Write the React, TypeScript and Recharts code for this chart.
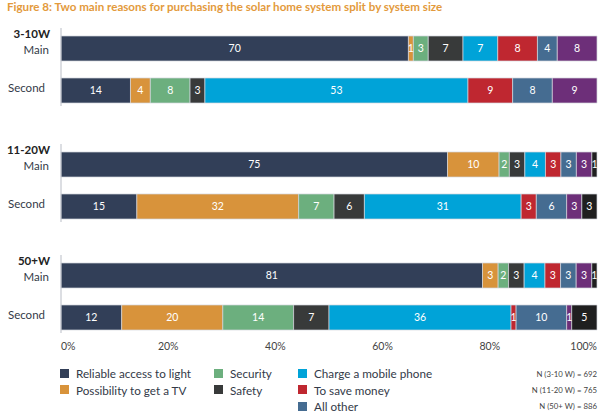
import React from 'react';
import { BarChart, Bar, XAxis, YAxis, LabelList } from 'recharts';

const groupLabels = ['3-10W', '11-20W', '50+W'];
const rowLabels = ['Main', 'Second'];
const sampleNotes = ['N (3-10 W) = 692', 'N (11-20 W) = 765', 'N (50+ W) = 886'];
const percentTicks = [0, 0.2, 0.4, 0.6, 0.8, 1];

// one value per row: 3-10W main, 3-10W second, 11-20W main, 11-20W second, 50+W main, 50+W second
const lightValues = [70, 14, 75, 15, 81, 12];
const tvValues = [1, 4, 10, 32, 3, 20];
const securityValues = [3, 8, 2, 7, 2, 14];
const safetyValues = [7, 3, 3, 6, 3, 7];
const phoneValues = [7, 53, 4, 31, 4, 36];
const moneyValues = [8, 9, 3, 3, 3, 1];
const otherValues = [4, 8, 3, 6, 3, 10];
const purpleValues = [8, 9, 3, 3, 3, 1];
const blackValues = [0, 0, 1, 3, 1, 5];

const series = [
  { key: 'light', name: 'Reliable access to light', values: lightValues, color: '#323f58' },
  { key: 'tv', name: 'Possibility to get a TV', values: tvValues, color: '#d8933b' },
  { key: 'security', name: 'Security', values: securityValues, color: '#6caf7e' },
  { key: 'safety', name: 'Safety', values: safetyValues, color: '#383a3a' },
  { key: 'phone', name: 'Charge a mobile phone', values: phoneValues, color: '#00a3d8' },
  { key: 'money', name: 'To save money', values: moneyValues, color: '#bf2730' },
  { key: 'other', name: 'All other', values: otherValues, color: '#456c91' },
  { key: 'purple', name: '', values: purpleValues, color: '#6d2f79' },
  { key: 'black', name: '', values: blackValues, color: '#1f1f1f' },
];

const legendColumns = [
  { left: 60, keys: ['light', 'tv'] },
  { left: 214, keys: ['security', 'safety'] },
  { left: 298, keys: ['phone', 'money', 'other'] },
];

const FONT = 'Lato, "Open Sans", sans-serif';

const buildRows = (g: number) =>
  rowLabels.map((row, r) => {
    const item: Record<string, any> = { row };
    series.forEach((s) => {
      item[s.key] = s.values[g * 2 + r];
    });
    return item;
  });

const RowTick = ({ x, y, payload, group }: any) => {
  const isMain = payload.value === 'Main';
  return (
    <g>
      {isMain && (
        <text x={x - 11} y={y - 15} textAnchor="end" dominantBaseline="central"
          fontSize={11.5} fontWeight={700} fill="#222" fontFamily={FONT}>
          {group}
        </text>
      )}
      <text x={isMain ? x - 12 : x - 16} y={isMain ? y + 1 : y - 3} textAnchor="end"
        dominantBaseline="central" fontSize={11.5} fill="#333a48" fontFamily={FONT}>
        {payload.value}
      </text>
    </g>
  );
};

const PercentTick = ({ x, y, payload, index }: any) => {
  const anchor = index === 0 ? 'start' : index === percentTicks.length - 1 ? 'end' : 'middle';
  return (
    <text x={x} y={y + 13} textAnchor={anchor} dominantBaseline="central"
      fontSize={10.5} fill="#444" fontFamily={FONT}>
      {`${Math.round(payload.value * 100)}%`}
    </text>
  );
};

const GroupChart = ({ g, lineTop }: { g: number; lineTop: number }) => {
  const showAxis = g === groupLabels.length - 1;
  const height = 98 + (showAxis ? 24 : 0);
  return (
    <div style={{ position: 'absolute', left: 0, top: lineTop - 10 }}>
      <BarChart
        width={600}
        height={height}
        data={buildRows(g)}
        layout="vertical"
        stackOffset="expand"
        margin={{ top: 10, right: 3, bottom: 10, left: 0 }}
      >
        <XAxis
          type="number"
          domain={[0, 1]}
          ticks={percentTicks}
          hide={!showAxis}
          height={24}
          axisLine={false}
          tickLine={false}
          tickSize={0}
          tickMargin={0}
          interval={0}
          tick={<PercentTick />}
        />
        <YAxis
          type="category"
          dataKey="row"
          width={61}
          axisLine={{ stroke: '#b9bdc6', strokeWidth: 1 }}
          tickLine={false}
          tickSize={0}
          tickMargin={0}
          padding={{ top: -1, bottom: -5 }}
          tick={<RowTick group={groupLabels[g]} />}
        />
        {series.map((s) => (
          <Bar
            key={s.key}
            dataKey={s.key}
            name={s.name}
            stackId="a"
            fill={s.color}
            stroke="#d3d6dc"
            strokeWidth={0.7}
            barSize={25}
            isAnimationActive={false}
          >
            <LabelList
              dataKey={s.key}
              position="center"
              fill="#ffffff"
              fontSize={10.5}
              fontFamily={FONT}
              formatter={(v: any) => (v ? v : '')}
            />
          </Bar>
        ))}
      </BarChart>
    </div>
  );
};

const App: React.FC = () => {
  const lineTops = [28, 144, 255];
  return (
    <div style={{ position: 'absolute', left: 0, top: 0, width: 600, height: 416, background: '#fff', fontFamily: FONT }}>
      <div style={{ position: 'absolute', left: 7, top: 0, fontSize: 11.6, fontWeight: 700, color: '#e39a3c', whiteSpace: 'nowrap' }}>
        Figure 8: Two main reasons for purchasing the solar home system split by system size
      </div>

      {groupLabels.map((_, g) => (
        <GroupChart key={g} g={g} lineTop={lineTops[g]} />
      ))}

      {legendColumns.map((col) =>
        col.keys.map((k, i) => {
          const s = series.find((x) => x.key === k)!;
          return (
            <div key={k} style={{ position: 'absolute', left: col.left, top: 373 - 8 + i * 16.5, height: 16, display: 'flex', alignItems: 'center', whiteSpace: 'nowrap' }}>
              <span style={{ width: 9, height: 9, background: s.color, display: 'inline-block', marginRight: 7 }} />
              <span style={{ fontSize: 11.7, color: '#333a48' }}>{s.name}</span>
            </div>
          );
        })
      )}

      {sampleNotes.map((n, i) => (
        <div key={n} style={{ position: 'absolute', right: 3, top: 369 + i * 16, fontSize: 7.8, color: '#444', whiteSpace: 'nowrap' }}>
          {n}
        </div>
      ))}
    </div>
  );
};

export default App;
